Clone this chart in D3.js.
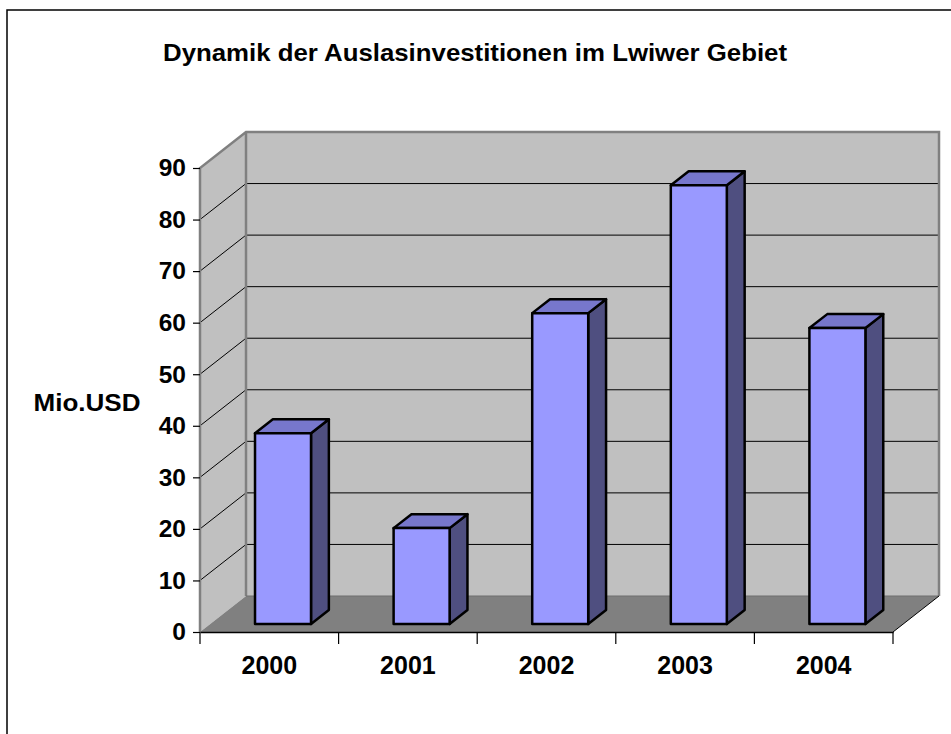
<!DOCTYPE html>
<html>
<head>
<meta charset="utf-8">
<script src="https://cdn.jsdelivr.net/npm/d3@7"></script>
<style>
html,body{margin:0;padding:0;background:#fff;}
svg{display:block;font-family:"Liberation Sans",Arial,sans-serif;}
</style>
</head>
<body>
<svg id="chart" width="951" height="734"></svg>
<script>
const title = "Dynamik der Auslasinvestitionen im Lwiwer Gebiet";
const yAxisTitle = "Mio.USD";
const years = ["2000", "2001", "2002", "2003", "2004"];
const values = [37.0, 18.6, 60.3, 85.1, 57.4];
const yTicks = [0, 10, 20, 30, 40, 50, 60, 70, 80, 90];

const svg = d3.select("#chart");
// layout
const X0 = 200, X1 = 893, Y0 = 632, Y1 = 168;
const DX = 46, DY = -36;           // depth vector of plot box
const f0 = 0.222, f1 = 0.61;       // bar depth range (fraction)

const x = d3.scaleBand().domain(years).range([X0, X1]);
const y = d3.scaleLinear().domain([0, 90]).range([Y0, Y1]);

// frame
svg.append("rect").attr("x", 7).attr("y", 10).attr("width", 960).attr("height", 740)
  .attr("fill", "#fff").attr("stroke", "#000").attr("stroke-width", 1.5);

const wallFill = "#c0c0c0", edge = "#808080";
const pt = (px, py) => px + "," + py;

// back wall
svg.append("polygon")
  .attr("points", [pt(X0+DX, y(90)+DY), pt(X1+DX, y(90)+DY), pt(X1+DX, Y0+DY), pt(X0+DX, Y0+DY)].join(" "))
  .attr("fill", wallFill);
// side wall
svg.append("polygon")
  .attr("points", [pt(X0, y(90)), pt(X0+DX, y(90)+DY), pt(X0+DX, Y0+DY), pt(X0, Y0)].join(" "))
  .attr("fill", wallFill);
// floor
svg.append("polygon")
  .attr("points", [pt(X0, Y0), pt(X0+DX, Y0+DY), pt(X1+DX, Y0+DY), pt(X1, Y0)].join(" "))
  .attr("fill", "#808080");

// gridlines
const grid = yTicks.filter(d => d > 0 && d < 90);
svg.append("g").selectAll("path").data(grid).join("path")
  .attr("d", d => `M${X0},${y(d)}L${X0+DX},${y(d)+DY}L${X1+DX},${y(d)+DY}`)
  .attr("fill", "none").attr("stroke", "#000").attr("stroke-width", 1);

// wall edges
svg.append("path")
  .attr("d", `M${X0},${Y0}L${X0},${y(90)}L${X0+DX},${y(90)+DY}L${X1+DX},${y(90)+DY}L${X1+DX},${Y0+DY}` +
             `M${X0+DX},${y(90)+DY}L${X0+DX},${Y0+DY}`)
  .attr("fill", "none").attr("stroke", edge).attr("stroke-width", 2.5);
svg.append("path")
  .attr("d", `M${X0+DX},${Y0+DY}L${X1+DX},${Y0+DY}`)
  .attr("fill", "none").attr("stroke", "#6e6e6e").attr("stroke-width", 1);
svg.append("path")
  .attr("d", `M${X1+DX},${Y0+DY}L${X1},${Y0}`)
  .attr("fill", "none").attr("stroke", "#000").attr("stroke-width", 1);

// bars
const bw = 56;
const barOffset = 44.8;
const bars = svg.append("g");
years.forEach((yr, i) => {
  const v = values[i];
  const ox = DX * f0, oy = DY * f0;
  const dx = DX * (f1 - f0), dy = DY * (f1 - f0);
  const lx = x(yr) + barOffset + ox, rx = lx + bw;
  const by = y(0) + oy, ty = y(v) + oy;
  const g = bars.append("g").attr("stroke", "#000").attr("stroke-width", 2.5).attr("stroke-linejoin", "round");
  g.append("polygon").attr("points", [pt(rx, ty), pt(rx+dx, ty+dy), pt(rx+dx, by+dy), pt(rx, by)].join(" "))
    .attr("fill", "#4f4f80");
  g.append("polygon").attr("points", [pt(lx, ty), pt(rx, ty), pt(rx+dx, ty+dy), pt(lx+dx, ty+dy)].join(" "))
    .attr("fill", "#7777cc");
  g.append("rect").attr("x", lx).attr("y", ty).attr("width", bw).attr("height", by - ty)
    .attr("fill", "#9999ff");
});

// axes
const yAxis = svg.append("g").attr("transform", `translate(${X0},0)`)
  .call(d3.axisLeft(y).tickValues(yTicks).tickSize(7).tickPadding(7).tickFormat(d3.format("d")));
yAxis.select(".domain").remove();
yAxis.selectAll(".tick line").attr("stroke", "#000").attr("stroke-width", 1.2);
yAxis.selectAll(".tick text").attr("font-size", 24.5).attr("font-weight", "bold")
  .attr("font-family", "Liberation Sans, Arial, sans-serif").attr("fill", "#000");

const xAxis = svg.append("g").attr("transform", `translate(0,${Y0})`)
  .call(d3.axisBottom(x).tickSize(0).tickPadding(24));
xAxis.select(".domain").attr("stroke", "#000").attr("stroke-width", 1.5);
xAxis.selectAll(".tick text").attr("font-size", 25).attr("font-weight", "bold")
  .attr("font-family", "Liberation Sans, Arial, sans-serif").attr("fill", "#000");
// category separators
const bounds = years.map(d => x(d)).concat([X1]);
svg.append("g").selectAll("line").data(bounds).join("line")
  .attr("x1", d => d).attr("x2", d => d).attr("y1", Y0).attr("y2", Y0 + 12)
  .attr("stroke", "#000").attr("stroke-width", 1.2);

// title
svg.append("text").attr("x", 475).attr("y", 61).attr("text-anchor", "middle")
  .attr("font-size", 24).attr("font-weight", "bold")
  .attr("textLength", 624).attr("lengthAdjust", "spacingAndGlyphs").text(title);
svg.append("text").attr("x", 87).attr("y", 411).attr("text-anchor", "middle")
  .attr("font-size", 24.5).attr("font-weight", "bold")
  .attr("textLength", 107).attr("lengthAdjust", "spacingAndGlyphs").text(yAxisTitle);
</script>
</body>
</html>
